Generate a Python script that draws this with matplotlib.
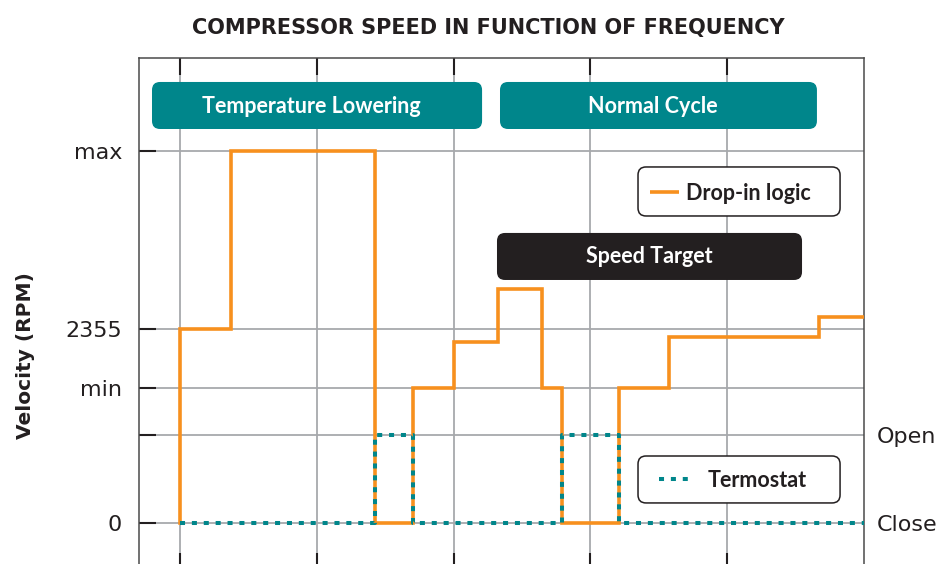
import matplotlib
matplotlib.use("Agg")
import matplotlib.pyplot as plt
from matplotlib.patches import FancyBboxPatch

# ---------------- data ----------------
title = "COMPRESSOR SPEED IN FUNCTION OF FREQUENCY"
y_label = "Velocity (RPM)"

x_grid = [0, 1, 2, 3, 4]
x_limits = (-0.30, 5.0)

y_levels = [0, 1068, 1639, 2355, 4516]
y_labels_left = ["0", "", "min", "2355", "max"]
y_labels_right = ["Close", "Open", "", "", ""]
y_limits = (-571, 5645)

# Drop-in logic (compressor speed), step-post
speed_x = [0, 0, 0.373, 1.425, 1.703, 2.003, 2.325, 2.646, 2.792, 3.209, 3.575, 4.671, 5.0]
speed_y = [0, 2355, 4516, 0, 1639, 2197, 2841, 1639, 0, 1639, 2258, 2501, 2501]

# Termostat (Close = 0, Open = 1068), step-post
thermo_x = [0, 1.425, 1.703, 2.792, 3.209, 5.0]
thermo_y = [0, 1068, 0, 1068, 0, 0]

phase_names = ["Temperature Lowering", "Normal Cycle"]
phase_x0 = [-0.205, 2.339]
phase_x1 = [2.208, 4.656]
phase_text_x = [0.958, 3.458]

# ---------------- style ----------------
ORANGE = "#F7901E"
TEAL = "#00868B"
DARK = "#231F20"
GRID = "#A7A9AC"
BOXFONT = ["Lato", "DejaVu Sans"]
DOTS = (0, (1.25, 1.7))

plt.rcParams["font.family"] = ["DejaVu Sans"]

fig = plt.figure(figsize=(9.42, 5.64), dpi=100)
ax = fig.add_axes([139 / 942, -6 / 564, 725 / 942, 512 / 564])
ax.set_xlim(*x_limits)
ax.set_ylim(*y_limits)

# grid
for xv in x_grid:
    ax.axvline(xv, color=GRID, lw=1.3, zorder=1)
for yv in y_levels:
    ax.axhline(yv, color=GRID, lw=1.3, zorder=1)

# series
ax.plot(speed_x, speed_y, drawstyle="steps-post", color=ORANGE, lw=2.6,
        zorder=3, solid_joinstyle="miter", label="Drop-in logic")
ax.plot(thermo_x, thermo_y, drawstyle="steps-post", color=TEAL, lw=2.9,
        linestyle=DOTS, zorder=4, label="Termostat")

# ticks / spines
ax.set_xticks(x_grid)
ax.set_xticklabels([])
ax.set_yticks(y_levels)
ax.set_yticklabels(y_labels_left)
ax.tick_params(axis="x", which="both", direction="in", length=12.2, width=1.5,
               color=DARK, top=True, bottom=True)
ax.tick_params(axis="y", which="both", direction="in", length=12.2, width=1.5,
               color=DARK, left=True, right=True, pad=12.2, labelsize=16,
               labelcolor=DARK)
for s in ax.spines.values():
    s.set_color("#4a4a4a")
    s.set_linewidth(1.1)

ax2 = ax.twinx()
ax2.set_ylim(*y_limits)
ax2.set_yticks(y_levels)
ax2.set_yticklabels(y_labels_right)
ax2.tick_params(axis="y", direction="in", length=0, pad=9.4, labelsize=16,
                labelcolor=DARK)
for s in ax2.spines.values():
    s.set_visible(False)

# rounded boxes in data coords
PX_X = 1 / 136.8          # data-x per pixel
PX_Y = 12.14              # data-y per pixel
ASPECT = PX_Y / PX_X
R = 8 * PX_X


def rbox(x0, x1, y0, y1, fc, ec, lw):
    p = FancyBboxPatch((x0, y0), x1 - x0, y1 - y0,
                       boxstyle=f"round,pad=0,rounding_size={R}",
                       mutation_aspect=ASPECT, fc=fc, ec=ec, lw=lw,
                       zorder=6, clip_on=False)
    ax.add_patch(p)


# phase boxes
for name, x0, x1, tx in zip(phase_names, phase_x0, phase_x1, phase_text_x):
    rbox(x0, x1, 4783, 5354, TEAL, "none", 0)
    ax.text(tx, 4977, name, ha="center", va="baseline", color="white",
            fontsize=15.5, fontweight="bold", family=BOXFONT, zorder=7)

# speed target box
rbox(2.317, 4.547, 2950, 3521, DARK, "none", 0)
ax.text(3.432, 3156, "Speed Target", ha="center", va="baseline", color="white",
        fontsize=15.5, fontweight="bold", family=BOXFONT, zorder=7)

# legend boxes
rbox(3.348, 4.825, 3727, 4322, "white", DARK, 1.1)
ax.plot([3.436, 3.648], [4018, 4018], color=ORANGE, lw=2.6, zorder=7,
        solid_capstyle="butt")
ax.text(3.699, 3921, "Drop-in logic", ha="left", va="baseline", color=DARK,
        fontsize=15.5, fontweight="bold", family=BOXFONT, zorder=7)

rbox(3.348, 4.825, 243, 813, "white", DARK, 1.1)
ax.plot([3.501, 3.743], [534, 534], color=TEAL, lw=2.9, linestyle=DOTS,
        zorder=7)
ax.text(3.860, 437, "Termostat", ha="left", va="baseline", color=DARK,
        fontsize=15.5, fontweight="bold", family=BOXFONT, zorder=7)

# title and y label
fig.text(488.5 / 942, (564 - 34) / 564, title, ha="center", va="baseline",
         fontsize=15, fontweight="bold", color=DARK)
fig.text(26 / 942, (564 - 356) / 564, y_label, ha="center", va="center",
         rotation=90, fontsize=14.5, fontweight="bold", color=DARK)

fig.savefig("out.png", dpi=100)
